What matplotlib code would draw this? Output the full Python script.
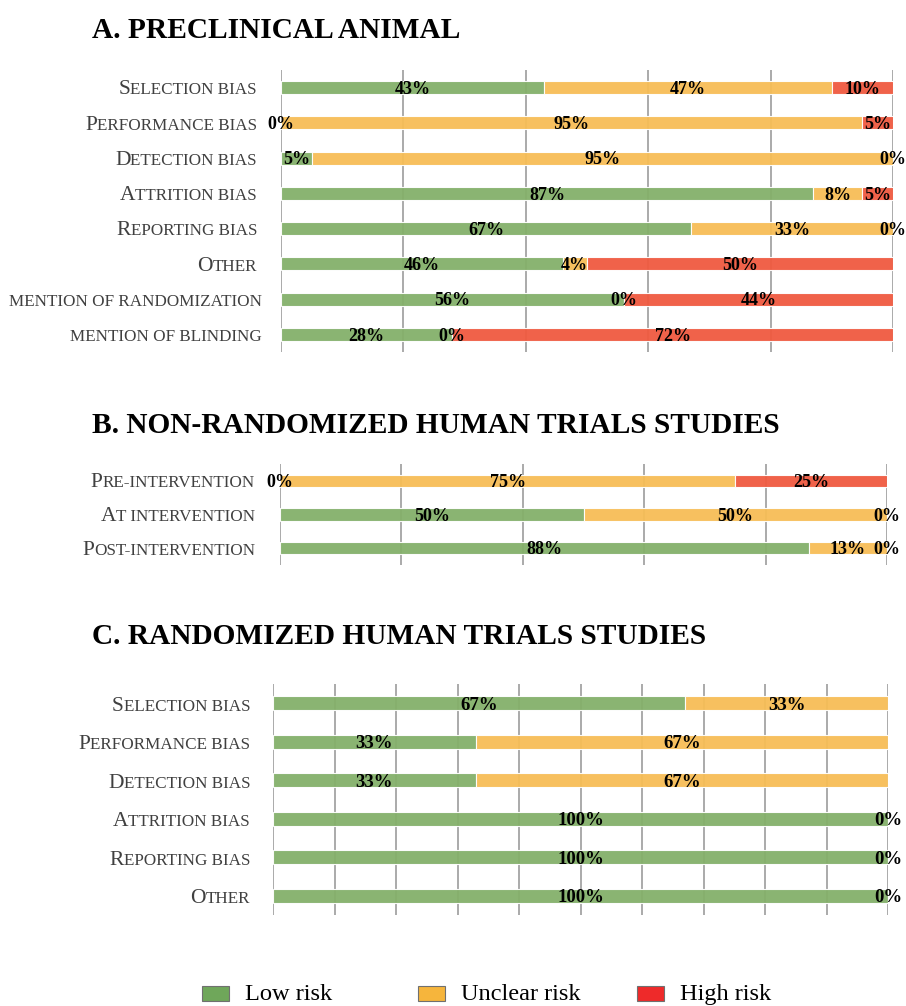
import matplotlib
matplotlib.use('Agg')
import matplotlib.pyplot as plt
from matplotlib.patches import Rectangle

plt.rcParams['font.family'] = ['Liberation Serif', 'DejaVu Serif']

# panel A - preclinical animal
a_labels = [('S', 'ELECTION BIAS'), ('P', 'ERFORMANCE BIAS'), ('D', 'ETECTION BIAS'),
            ('A', 'TTRITION BIAS'), ('R', 'EPORTING BIAS'), ('O', 'THER'),
            ('', 'MENTION OF RANDOMIZATION'), ('', 'MENTION OF BLINDING')]
a_low = [43, 0, 5, 87, 67, 46, 56, 28]
a_unclear = [47, 95, 95, 8, 33, 4, 0, 0]
a_high = [10, 5, 0, 5, 0, 50, 44, 72]

# panel B - non-randomized human trials
b_labels = [('P', 'RE-INTERVENTION'), ('A', 'T INTERVENTION'), ('P', 'OST-INTERVENTION')]
b_low = [0, 50, 88]
b_unclear = [75, 50, 13]
b_high = [25, 0, 0]

# panel C - randomized human trials
c_labels = [('S', 'ELECTION BIAS'), ('P', 'ERFORMANCE BIAS'), ('D', 'ETECTION BIAS'),
            ('A', 'TTRITION BIAS'), ('R', 'EPORTING BIAS'), ('O', 'THER')]
c_low = [67, 33, 33, 100, 100, 100]
c_unclear = [33, 67, 67, 0, 0, 0]
c_high = [0, 0, 0, 0, 0, 0]

legend_names = ['Low risk', 'Unclear risk', 'High risk']

bar_colors = ['#84b06a', '#f7bd56', '#f05a40']
leg_colors = ['#6fa75a', '#f6b53c', '#ee2a2a']

W, H = 906, 1006
fig = plt.figure(figsize=(W / 100, H / 100), dpi=100)


def ax_at(x0, y0, x1, y1):
    return fig.add_axes([x0 / W, 1 - y1 / H, (x1 - x0) / W, (y1 - y0) / H])


def panel(ax, labels, low, unclear, high, step, label_high=True, gap=24, fs=13):
    n = len(labels)
    ypos = list(range(n))
    rows = list(zip(low, unclear, high))
    left = [0] * n
    for k, series in enumerate([low, unclear, high]):
        widths = [series[i] / sum(rows[i]) * 100 for i in range(n)]
        ax.barh(ypos, widths, left=left, height=0.37, color=bar_colors[k],
                edgecolor='white', linewidth=0.8, alpha=0.95, zorder=2)
        if k < 2 or label_high:
            for i in range(n):
                ax.text(left[i] + widths[i] / 2, ypos[i] + 0.05, f'{series[i]}%',
                        ha='center', va='center', fontsize=fs, fontweight='bold',
                        color='black', zorder=4)
        left = [left[i] + widths[i] for i in range(n)]
    ax.set_xlim(0, 100)
    ax.set_ylim(n - 0.5, -0.5)
    ax.set_xticks(range(0, 101, step))
    ax.set_yticks([])
    ax.tick_params(axis='x', length=0, labelbottom=False)
    ax.grid(axis='x', color='#aaaaaa', linewidth=1.4, zorder=0)
    ax.set_axisbelow(True)
    for s in ax.spines.values():
        s.set_visible(False)
    for i, (cap, rest) in enumerate(labels):
        g = gap if cap else gap - 5
        t = ax.annotate(rest, xy=(0, i + 0.19), xycoords=('axes fraction', 'data'),
                        xytext=(-g, 0), textcoords='offset pixels',
                        ha='right', va='baseline', fontsize=12.3, color='#404040')
        if cap:
            ax.annotate(cap, xy=(0, i + 0.19), xycoords=(t, 'data'),
                        ha='right', va='baseline', fontsize=15.5, color='#404040')


ax_a = ax_at(281, 70, 893, 352)
panel(ax_a, a_labels, a_low, a_unclear, a_high, 20)

ax_b = ax_at(280, 464, 887, 565)
panel(ax_b, b_labels, b_low, b_unclear, b_high, 20, gap=25)

ax_c = ax_at(273, 684, 888, 915)
panel(ax_c, c_labels, c_low, c_unclear, c_high, 10, label_high=False, gap=23, fs=13.5)

titles = [('A. PRECLINICAL ANIMAL', 38), ('B. NON-RANDOMIZED HUMAN TRIALS STUDIES', 433),
          ('C. RANDOMIZED HUMAN TRIALS STUDIES', 644)]
for txt, yb in titles:
    fig.text(92 / W, 1 - yb / H, txt, fontsize=21.2, fontweight='bold', color='black',
             ha='left', va='baseline')

# legend
sq_x = [202, 418, 637]
for k, name in enumerate(legend_names):
    fig.patches.append(Rectangle((sq_x[k] / W, 1 - 1001 / H), 27 / W, 15 / H,
                                 transform=fig.transFigure, facecolor=leg_colors[k],
                                 edgecolor='#707070', linewidth=0.8))
    fig.text((sq_x[k] + 43) / W, 1 - 1005 / H, name, fontsize=17.6, color='black',
             ha='left', va='bottom')

fig.savefig('out.png', dpi=100)
